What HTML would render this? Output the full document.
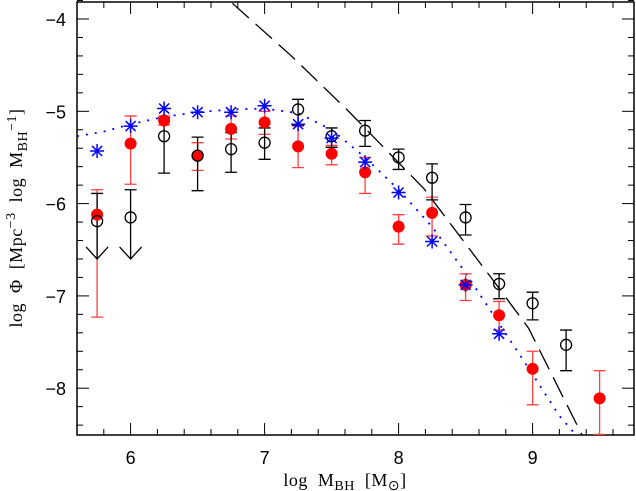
<!DOCTYPE html>
<html><head><meta charset="utf-8"><style>
html,body{margin:0;padding:0;background:#fff;}
svg{display:block;}
.tk{font-family:"Liberation Sans",sans-serif;font-size:18px;}
.tt{font-family:"Liberation Serif",serif;font-size:18px;white-space:pre;letter-spacing:0.5px;}
</style></head><body>
<svg id="chart" width="636" height="491" xmlns="http://www.w3.org/2000/svg">
<g id="plot"></g>
<text class="tt" x="345" y="486" text-anchor="middle" xml:space="preserve">log  M<tspan font-size="14" dy="4">BH</tspan><tspan dy="-4">  [M</tspan><tspan font-size="14" dy="4">⊙</tspan><tspan dy="-4">]</tspan></text>
<text class="tt" transform="translate(22,218) rotate(-90)" text-anchor="middle" xml:space="preserve">log  Φ  [Mpc<tspan font-size="14" dy="-7">−3</tspan><tspan dy="7">  log  M</tspan><tspan font-size="14" dy="5">BH</tspan><tspan font-size="14" dy="-11">−1</tspan><tspan dy="6">]</tspan></text>
</svg>
<script>
// data
const xTicks=[6,7,8,9];
const yTicks=[-4,-5,-6,-7,-8];
const blackX=[5.75,6.0,6.25,6.5,6.75,7.0,7.25,7.5,7.75,8.0,8.25,8.5,8.75,9.0,9.25];
const blackY=[-6.19,-6.15,-5.27,-5.48,-5.41,-5.34,-4.98,-5.27,-5.21,-5.50,-5.72,-6.15,-6.87,-7.08,-7.53];
const blackHi=[-5.89,-5.85,-5.07,-5.28,-5.23,-5.18,-4.87,-5.18,-5.10,-5.41,-5.57,-6.01,-6.76,-6.96,-7.37];
const blackLo=[-6.6,-6.6,-5.67,-5.86,-5.66,-5.52,-5.15,-5.39,-5.38,-5.63,-5.96,-6.34,-7.03,-7.26,-7.81];
const blackUpperLimit=[true,true,false,false,false,false,false,false,false,false,false,false,false,false,false];
const redX=[5.75,6.0,6.25,6.5,6.75,7.0,7.25,7.5,7.75,8.0,8.25,8.5,8.75,9.0,9.5];
const redY=[-6.12,-5.35,-5.10,-5.48,-5.19,-5.12,-5.38,-5.46,-5.66,-6.25,-6.10,-6.88,-7.21,-7.79,-8.11];
const redHi=[-5.85,-5.05,-5.05,-5.34,-5.05,-5.0,-5.16,-5.37,-5.5,-6.12,-5.93,-6.76,-7.06,-7.60,-7.81];
const redLo=[-7.23,-5.79,-5.15,-5.64,-5.3,-5.25,-5.61,-5.58,-5.89,-6.44,-6.35,-7.05,-7.37,-8.18,-8.5];
const blueX=[5.75,6.0,6.25,6.5,6.75,7.0,7.25,7.5,7.75,8.0,8.25,8.5,8.75];
const blueY=[-5.43,-5.16,-4.97,-5.01,-5.01,-4.94,-5.14,-5.29,-5.55,-5.88,-6.41,-6.88,-7.41];
const dotX=[5.6,5.8,6.0,6.25,6.5,6.75,7.0,7.25,7.5,7.75,8.0,8.25,8.5,8.75,9.0,9.2,9.32];
const dotY=[-5.27,-5.22,-5.14,-5.06,-5.01,-4.98,-4.97,-5.02,-5.2,-5.5,-5.85,-6.25,-6.75,-7.3,-7.85,-8.3,-8.5];
const dashX=[6.76,7.2,7.62,8.19,8.71,8.97,9.37];
const dashY=[-3.83,-4.4,-4.99,-5.84,-6.84,-7.35,-8.51];

const L=77,R=634,T=2,B=435;
const sx=v=>L+(v-5.6)*134;
const sy=v=>19+(-4-v)*92.3;
const NS="http://www.w3.org/2000/svg";
const g=document.getElementById('plot');
function mk(tag,attrs){const e=document.createElementNS(NS,tag);for(const k in attrs)e.setAttribute(k,attrs[k]);g.appendChild(e);return e;}

const defs=mk('defs',{});
const cp=document.createElementNS(NS,'clipPath');cp.setAttribute('id','clip');
const cr=document.createElementNS(NS,'rect');cr.setAttribute('x',L);cr.setAttribute('y',T);cr.setAttribute('width',R-L);cr.setAttribute('height',B-T);
cp.appendChild(cr);defs.appendChild(cp);

let fr=mk('rect',{x:L,y:T,width:R-L,height:B-T,fill:'none',stroke:'#000','stroke-width':1.5});



for(let v=5.6;v<=9.76;v+=0.2){
  const major=Math.abs(v-Math.round(v))<0.01;
  const len=major?12:6;const x=sx(v);
  let t=mk('line',{x1:x,x2:x,y1:B,y2:B-len,stroke:'#000','stroke-width':1});
  
  
  let t2=mk('line',{x1:x,x2:x,y1:T,y2:T+len,stroke:'#000','stroke-width':1});
  
  
}
for(let v=-3.8;v>=-8.5;v-=0.2){
  const major=Math.abs(v-Math.round(v))<0.01;
  const len=major?12:6;const y=sy(v);
  let t=mk('line',{x1:L,x2:L+len,y1:y,y2:y,stroke:'#000','stroke-width':1});
  
  
  let t2=mk('line',{x1:R,x2:R-len,y1:y,y2:y,stroke:'#000','stroke-width':1});
  
  
}
xTicks.forEach(v=>{
  const t=mk('text',{x:sx(v),y:464,'text-anchor':'middle',class:'tk'});t.textContent=String(v);
  
  
});
yTicks.forEach(v=>{
  const t=mk('text',{x:66,y:sy(v)+7,'text-anchor':'end',class:'tk'});t.textContent='−'+Math.abs(v);
  
  
});

const cg=mk('g',{'clip-path':'url(#clip)'});
function add(tag,attrs){const e=document.createElementNS(NS,tag);for(const k in attrs)e.setAttribute(k,attrs[k]);cg.appendChild(e);return e;}

let dp=add('polyline',{points:dashX.map((x,i)=>sx(x)+','+sy(dashY[i])).join(' '),fill:'none',stroke:'#000','stroke-width':1.3,'stroke-dasharray':'22,9'});


let bp=add('polyline',{points:dotX.map((x,i)=>sx(x)+','+sy(dotY[i])).join(' '),fill:'none',stroke:'#0000ff','stroke-width':1.8,'stroke-dasharray':'2,7'});



redX.forEach((x,i)=>{
  const px=sx(x),c='#ff4040';
  let e=add('path',{d:`M${px},${sy(redHi[i])}V${sy(redLo[i])}M${px-6},${sy(redHi[i])}h12M${px-6},${sy(redLo[i])}h12`,stroke:c,'stroke-width':1.3,fill:'none'});
  
  
});
blackX.forEach((x,i)=>{
  const px=sx(x);
  let d=`M${px},${sy(blackHi[i])}V${sy(blackLo[i])}M${px-6},${sy(blackHi[i])}h12`;
  if(blackUpperLimit[i]) d+=`M${px-11},${sy(blackLo[i])-12}L${px},${sy(blackLo[i])}L${px+11},${sy(blackLo[i])-12}`;
  else d+=`M${px-6},${sy(blackLo[i])}h12`;
  let e=add('path',{d,stroke:'#000','stroke-width':1.3,fill:'none'});
  
  
});
redX.forEach((x,i)=>{
  let c=add('circle',{cx:sx(x),cy:sy(redY[i]),r:6,fill:'#ff0000'});
  
  
});
blackX.forEach((x,i)=>{
  let c=add('circle',{cx:sx(x),cy:sy(blackY[i]),r:5.5,fill:'none',stroke:'#000','stroke-width':1.3});
  
  
});
blueX.forEach((x,i)=>{
  const px=sx(x),py=sy(blueY[i]),s=7;
  let st=add('path',{d:`M${px-s},${py}h${2*s}M${px},${py-s}v${2*s}M${px-s*0.72},${py-s*0.72}l${s*1.44},${s*1.44}M${px-s*0.72},${py+s*0.72}l${s*1.44},${-s*1.44}`,stroke:'#0000ff','stroke-width':1.5,fill:'none'});
  
  
});
</script>
</body></html>
